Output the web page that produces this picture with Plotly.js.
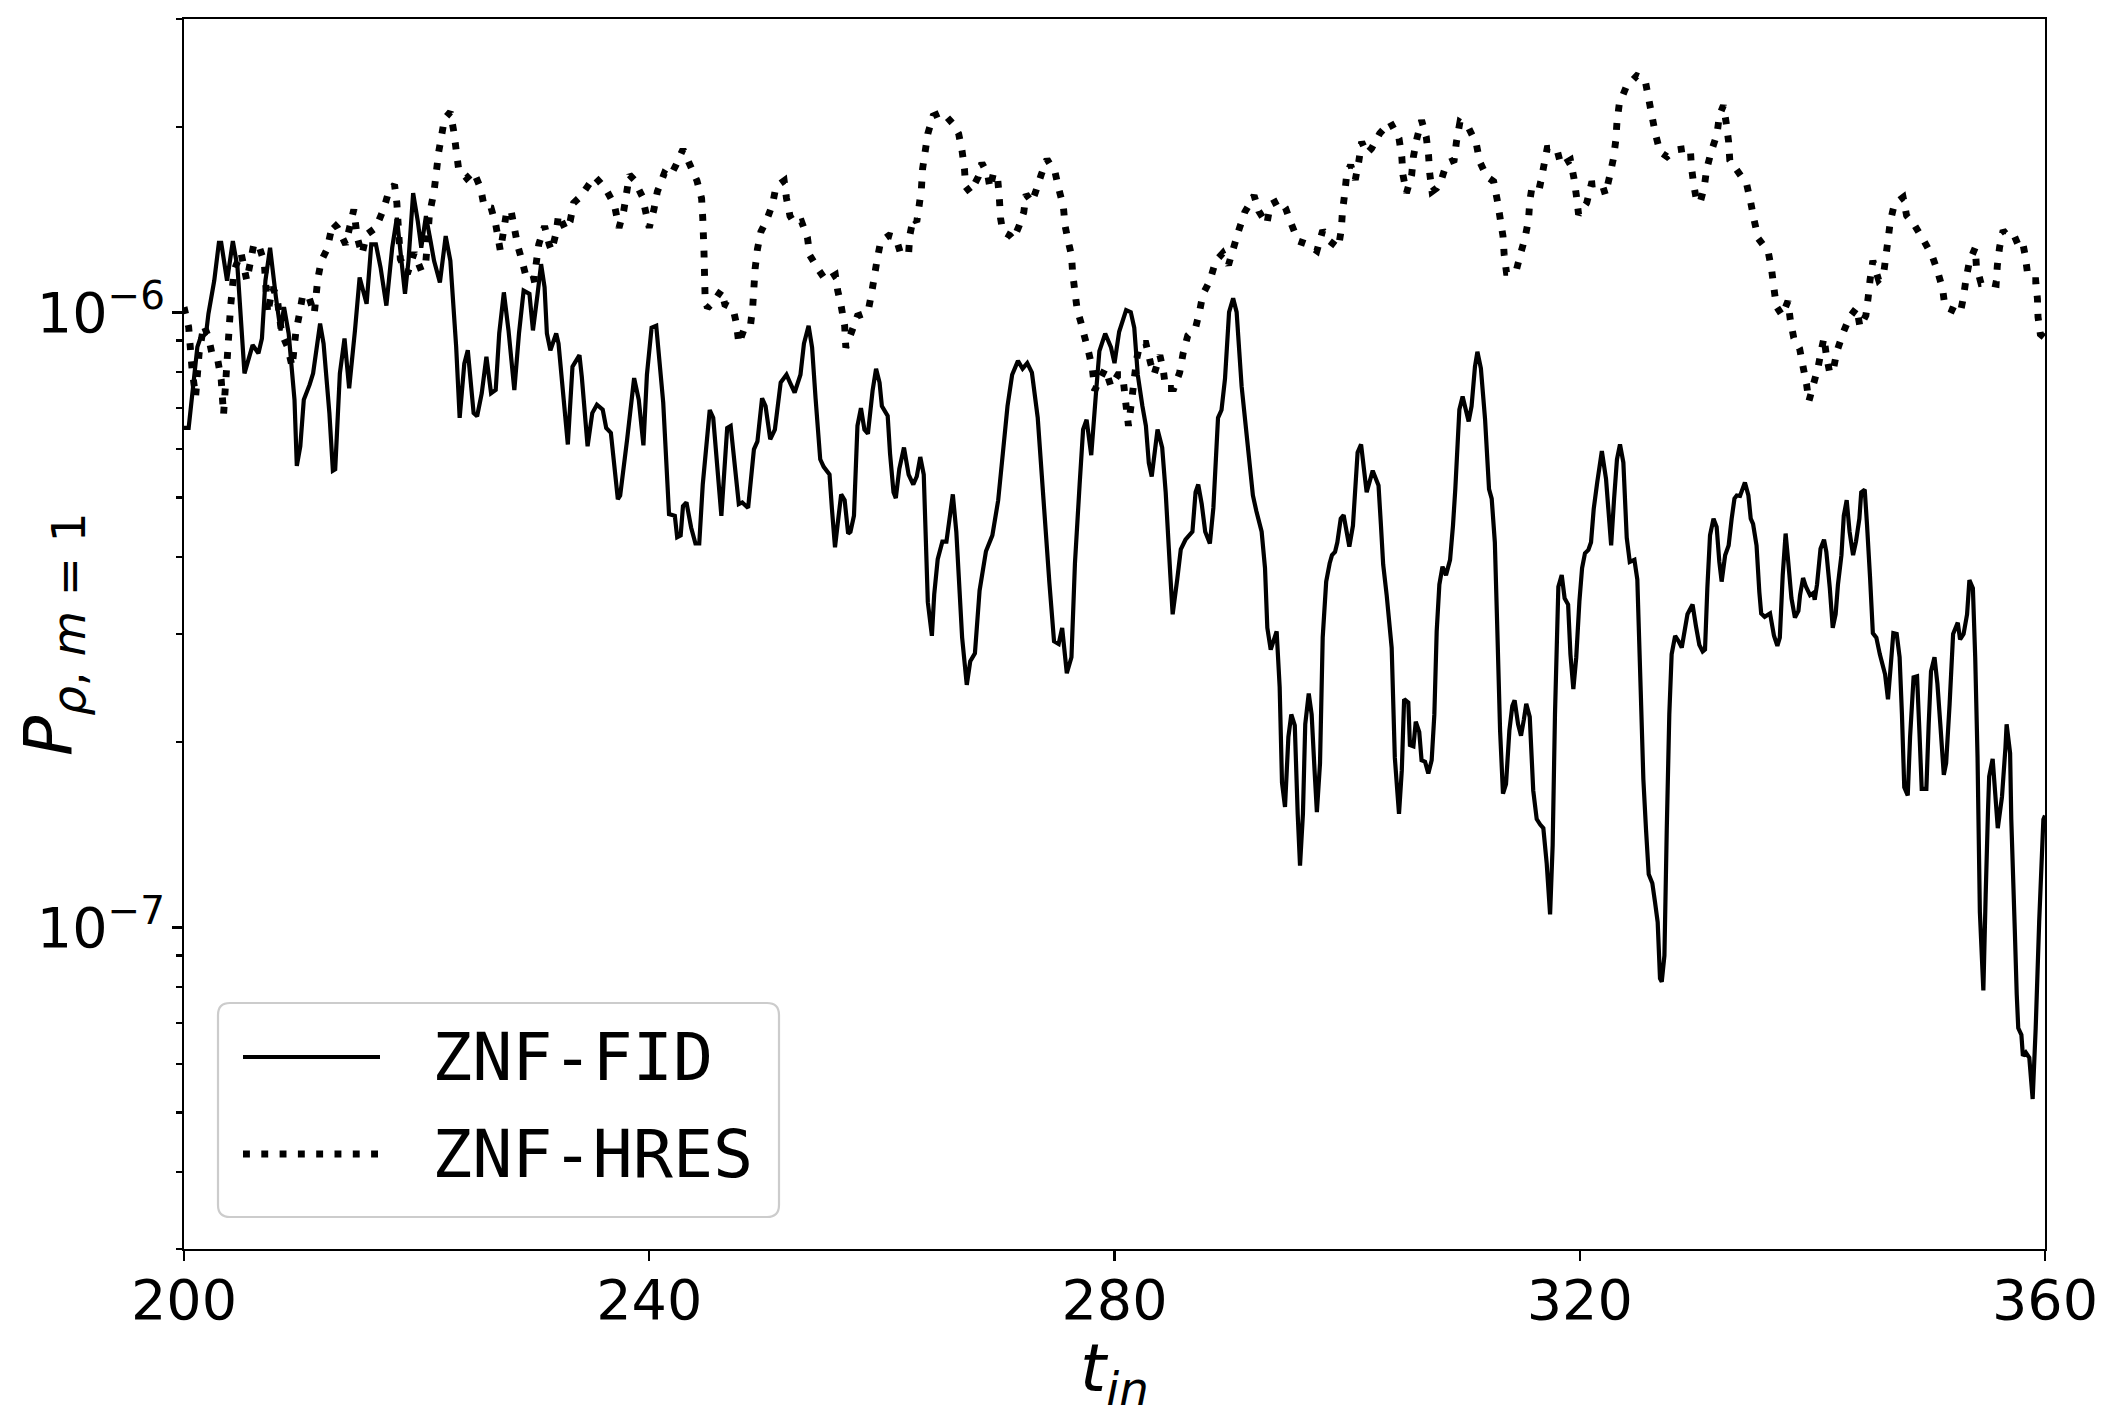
<!DOCTYPE html>
<html>
<head>
<meta charset="utf-8">
<script src="https://cdn.plot.ly/plotly-3.0.1.min.js"></script>
<style>
  html, body { margin: 0; padding: 0; background: #ffffff; }
  #chart { width: 2118px; height: 1420px; }
</style>
</head>
<body>
<div id="chart"></div>
<script>
// ---------------- data (values in units of 1e-6) ----------------
const UNIT = 1e-6;
const seriesNames = ["ZNF-FID", "ZNF-HRES"];

const fidTime = [
  200.0, 200.4, 201.15, 201.4, 201.9, 202.1, 202.6, 203.0, 203.2, 203.7,
  204.2, 204.6, 205.2, 205.9, 206.4, 206.7, 207.0, 207.4, 207.9, 208.3,
  208.6, 209.0, 209.5, 209.7, 210.0, 210.3, 210.8, 211.1, 211.7, 212.0,
  212.5, 212.8, 213.0, 213.4, 213.8, 214.2, 214.7, 215.1, 215.7, 216.1,
  216.5, 216.9, 217.4, 217.9, 218.3, 219.0, 219.3, 219.7, 220.1, 220.4,
  220.8, 221.2, 221.5, 222.0, 222.5, 222.9, 223.4, 223.7, 224.1, 224.4,
  224.9, 225.2, 225.6, 226.0, 226.4, 226.8, 227.1, 227.5, 227.9, 228.4,
  228.8, 229.2, 229.7, 230.0, 230.4, 230.7, 231.0, 231.2, 231.5, 232.0,
  232.2, 233.0, 233.4, 234.0, 234.2, 234.7, 235.1, 235.5, 236.0, 236.3,
  236.7, 237.3, 237.5, 238.1, 238.7, 239.1, 239.5, 239.8, 240.2, 240.6,
  241.2, 241.7, 242.2, 242.4, 242.7, 242.9, 243.2, 243.6, 243.97, 244.3,
  244.6, 245.2, 245.5, 246.2, 246.7, 247.0, 247.7, 248.0, 248.5, 249.0,
  249.3, 249.7, 250.0, 250.4, 250.8, 251.3, 251.8, 252.1, 252.5, 253.0,
  253.3, 253.7, 254.0, 254.3, 254.7, 255.0, 255.5, 255.7, 255.97, 256.2,
  256.5, 256.8, 257.1, 257.3, 257.6, 257.9, 258.2, 258.5, 258.8, 259.2,
  259.5, 259.8, 260.0, 260.5, 260.7, 261.0, 261.2, 261.5, 261.9, 262.3,
  262.7, 263.0, 263.3, 263.6, 263.95, 264.3, 264.5, 264.8, 265.2, 265.55,
  266.1, 266.4, 266.9, 267.3, 267.6, 268.0, 268.4, 268.95, 269.5, 270.0,
  270.4, 270.8, 271.2, 271.7, 272.1, 272.5, 272.9, 273.4, 273.9, 274.4,
  274.8, 275.2, 275.5, 275.9, 276.3, 276.6, 277.0, 277.3, 277.6, 278.0,
  278.4, 278.7, 279.2, 279.7, 280.0, 280.4, 281.0, 281.4, 281.7, 282.0,
  282.4, 282.7, 282.95, 283.2, 283.7, 284.1, 284.4, 284.8, 285.0, 285.4,
  285.7, 286.1, 286.7, 286.97, 287.2, 287.5, 287.8, 288.2, 288.5, 288.9,
  289.2, 289.5, 289.85, 290.2, 290.5, 290.93, 291.4, 291.9, 292.2, 292.65,
  292.94, 293.14, 293.43, 293.94, 294.2, 294.4, 294.66, 294.95, 295.2, 295.5,
  295.75, 295.95, 296.2, 296.4, 296.7, 296.95, 297.2, 297.4, 297.67, 297.9,
  298.2, 298.5, 298.7, 298.96, 299.16, 299.45, 299.7, 300.19, 300.5, 300.9,
  301.2, 301.68, 302.2, 302.7, 302.9, 303.1, 303.4, 303.83, 304.1, 304.26,
  304.46, 304.7, 304.9, 305.26, 305.4, 305.7, 305.9, 306.2, 306.4, 306.7,
  306.98, 307.27, 307.5, 307.7, 307.93, 308.2, 308.5, 308.85, 309.1, 309.3,
  309.65, 309.93, 310.2, 310.45, 310.7, 310.99, 311.2, 311.5, 311.86, 312.2,
  312.43, 312.7, 312.9, 313.15, 313.4, 313.66, 313.95, 314.2, 314.4, 314.7,
  314.95, 315.2, 315.4, 315.7, 316.0, 316.3, 316.6, 316.87, 317.16, 317.45,
  317.67, 317.87, 318.16, 318.45, 318.7, 319.0, 319.2, 319.45, 319.7, 319.97,
  320.2, 320.45, 320.74, 320.97, 321.2, 321.5, 321.9, 322.26, 322.7, 322.95,
  323.2, 323.46, 323.75, 324.04, 324.3, 324.7, 324.95, 325.24, 325.47, 325.7,
  325.93, 326.24, 326.47, 326.7, 326.9, 327.05, 327.28, 327.48, 327.7, 327.9,
  328.2, 328.5, 328.77, 329.06, 329.26, 329.7, 329.99, 330.28, 330.57, 330.77,
  330.97, 331.2, 331.5, 331.77, 332.0, 332.2, 332.5, 332.8, 333.06, 333.3,
  333.5, 333.78, 334.2, 334.5, 334.7, 334.9, 335.2, 335.44, 335.6, 335.9,
  336.36, 336.7, 336.99, 337.2, 337.45, 337.7, 337.9, 338.2, 338.5, 338.8,
  338.94, 339.2, 339.45, 339.8, 340.1, 340.2, 340.4, 340.7, 341.0, 341.2,
  341.5, 341.75, 342.0, 342.2, 342.5, 342.7, 342.95, 343.2, 343.5, 343.75,
  344.04, 344.2, 344.5, 344.7, 344.96, 345.2, 345.5, 345.8, 346.25, 346.5,
  346.7, 346.96, 347.25, 347.5, 347.7, 347.9, 348.2, 348.4, 348.7, 349.0,
  349.2, 349.4, 349.8, 350.0, 350.2, 350.5, 350.75, 351.0, 351.3, 351.5,
  351.8, 352.1, 352.5, 352.7, 353.0, 353.3, 353.5, 353.8, 354.0, 354.2,
  354.4, 354.7, 354.9, 355.1, 355.2, 355.5, 355.7, 355.94, 356.3, 356.6,
  356.7, 357.0, 357.1, 357.4, 357.57, 357.7, 357.97, 358.1, 358.35, 358.65,
  358.94, 359.2, 359.5, 359.86, 360.0
];
const fidPower = [
  0.649, 0.649, 0.879, 0.907, 0.924, 0.995, 1.126, 1.298, 1.298, 1.126,
  1.306, 1.183, 0.796, 0.885, 0.858, 0.907, 1.126, 1.274, 1.059, 0.935,
  1.020, 0.924, 0.721, 0.563, 0.606, 0.721, 0.763, 0.796, 0.959, 0.890,
  0.686, 0.553, 0.556, 0.796, 0.907, 0.753, 0.935, 1.140, 1.033, 1.290,
  1.290, 1.183, 1.026, 1.274, 1.425, 1.072, 1.213, 1.563, 1.407, 1.274,
  1.434, 1.306, 1.213, 1.119, 1.331, 1.213, 0.879, 0.674, 0.826, 0.868,
  0.686, 0.678, 0.739, 0.847, 0.739, 0.748, 0.924, 1.078, 0.935, 0.748,
  0.924, 1.085, 1.072, 0.935, 1.072, 1.198, 1.099, 0.924, 0.868, 0.924,
  0.890, 0.610, 0.816, 0.852, 0.786, 0.606, 0.686, 0.708, 0.695, 0.649,
  0.637, 0.497, 0.504, 0.622, 0.782, 0.721, 0.608, 0.792, 0.944, 0.951,
  0.714, 0.470, 0.467, 0.431, 0.434, 0.484, 0.491, 0.447, 0.421, 0.421,
  0.525, 0.694, 0.674, 0.467, 0.649, 0.654, 0.488, 0.491, 0.481, 0.599,
  0.617, 0.725, 0.704, 0.622, 0.645, 0.769, 0.792, 0.769, 0.741, 0.792,
  0.890, 0.951, 0.877, 0.725, 0.577, 0.561, 0.545, 0.481, 0.415, 0.453,
  0.506, 0.495, 0.437, 0.440, 0.467, 0.654, 0.699, 0.645, 0.635, 0.746,
  0.810, 0.769, 0.704, 0.679, 0.590, 0.510, 0.499, 0.557, 0.603, 0.545,
  0.525, 0.541, 0.582, 0.545, 0.338, 0.298, 0.348, 0.397, 0.424, 0.424,
  0.506, 0.440, 0.296, 0.248, 0.271, 0.279, 0.353, 0.409, 0.434, 0.495,
  0.590, 0.704, 0.792, 0.834, 0.810, 0.827, 0.798, 0.674, 0.495, 0.364,
  0.292, 0.289, 0.307, 0.259, 0.275, 0.391, 0.525, 0.645, 0.669, 0.586,
  0.736, 0.865, 0.924, 0.877, 0.827, 0.930, 1.009, 1.001, 0.944, 0.792,
  0.704, 0.654, 0.569, 0.541, 0.645, 0.603, 0.510, 0.374, 0.323, 0.369,
  0.412, 0.427, 0.440, 0.510, 0.525, 0.488, 0.440, 0.421, 0.481, 0.674,
  0.694, 0.780, 1.001, 1.054, 1.001, 0.758, 0.622, 0.504, 0.475, 0.440,
  0.384, 0.307, 0.283, 0.303, 0.246, 0.172, 0.157, 0.204, 0.222, 0.213,
  0.153, 0.126, 0.153, 0.214, 0.240, 0.222, 0.180, 0.154, 0.185, 0.296,
  0.365, 0.391, 0.403, 0.408, 0.423, 0.462, 0.468, 0.416, 0.450, 0.592,
  0.610, 0.510, 0.553, 0.523, 0.453, 0.389, 0.347, 0.285, 0.189, 0.172,
  0.153, 0.180, 0.235, 0.232, 0.198, 0.197, 0.216, 0.208, 0.187, 0.186,
  0.178, 0.187, 0.222, 0.303, 0.361, 0.386, 0.374, 0.396, 0.450, 0.516,
  0.695, 0.730, 0.695, 0.665, 0.704, 0.816, 0.863, 0.811, 0.670, 0.516,
  0.498, 0.423, 0.311, 0.209, 0.165, 0.171, 0.209, 0.229, 0.234, 0.214,
  0.205, 0.218, 0.231, 0.220, 0.167, 0.150, 0.147, 0.145, 0.127, 0.105,
  0.136, 0.222, 0.358, 0.374, 0.343, 0.335, 0.278, 0.244, 0.275, 0.339,
  0.384, 0.406, 0.411, 0.423, 0.479, 0.529, 0.595, 0.536, 0.418, 0.497,
  0.577, 0.610, 0.570, 0.430, 0.393, 0.396, 0.368, 0.243, 0.174, 0.144,
  0.122, 0.118, 0.110, 0.102, 0.0826, 0.0816, 0.090, 0.144, 0.222, 0.278,
  0.298, 0.292, 0.285, 0.307, 0.323, 0.335, 0.309, 0.288, 0.281, 0.283,
  0.356, 0.434, 0.462, 0.448, 0.393, 0.365, 0.403, 0.418, 0.462, 0.498,
  0.504, 0.503, 0.529, 0.504, 0.462, 0.453, 0.418, 0.351, 0.324, 0.320,
  0.324, 0.298, 0.287, 0.296, 0.374, 0.437, 0.398, 0.343, 0.319, 0.327,
  0.347, 0.370, 0.358, 0.347, 0.350, 0.341, 0.361, 0.413, 0.427, 0.408,
  0.356, 0.307, 0.323, 0.361, 0.403, 0.467, 0.495, 0.440, 0.403, 0.424,
  0.462, 0.510, 0.515, 0.451, 0.370, 0.301, 0.296, 0.278, 0.258, 0.235,
  0.261, 0.301, 0.300, 0.275, 0.222, 0.169, 0.164, 0.204, 0.255, 0.256,
  0.209, 0.168, 0.168, 0.214, 0.261, 0.275, 0.249, 0.214, 0.177, 0.185,
  0.231, 0.300, 0.313, 0.294, 0.300, 0.323, 0.367, 0.356, 0.275, 0.189,
  0.106, 0.079, 0.113, 0.155, 0.176, 0.188, 0.167, 0.145, 0.163, 0.196,
  0.214, 0.192, 0.150, 0.0995, 0.0778, 0.0686, 0.0669, 0.0618, 0.0626, 0.0614,
  0.0526, 0.0686, 0.1021, 0.1498, 0.152
];

const hresTime = [
  200.0, 200.4, 200.7, 201.0, 201.3, 201.7, 202.1, 202.4, 202.9, 203.2,
  203.4, 203.7, 204.0, 204.3, 204.9, 205.4, 206.0, 206.4, 206.9, 207.2,
  207.6, 208.0, 208.4, 208.9, 209.3, 209.6, 209.9, 210.2, 210.7, 211.2,
  211.5, 211.8, 212.3, 212.8, 213.2, 213.9, 214.6, 214.9, 215.3, 215.7,
  216.5, 217.2, 217.6, 218.1, 218.3, 218.6, 219.2, 219.8, 220.4, 220.8,
  221.1, 221.5, 221.9, 222.4, 222.9, 223.2, 223.4, 223.6, 224.3, 224.9,
  225.5, 225.8, 226.4, 226.8, 227.2, 227.7, 228.1, 228.4, 228.7, 229.1,
  229.5, 230.1, 230.5, 231.0, 231.4, 231.6, 232.0, 232.2, 232.8, 233.2,
  233.5, 234.1, 234.7, 235.3, 235.7, 236.3, 237.0, 237.4, 237.8, 238.3,
  238.7, 239.4, 240.0, 240.4, 240.7, 241.3, 241.8, 242.3, 242.9, 243.5,
  244.1, 244.5, 244.6, 244.7, 244.75, 244.8, 245.0, 245.5, 246.2, 246.5,
  247.2, 247.5, 247.7, 248.2, 248.7, 248.9, 249.1, 249.3, 249.6, 250.1,
  250.6, 250.9, 251.6, 251.8, 252.1, 252.5, 253.1, 253.6, 253.8, 254.5,
  255.2, 256.0, 256.2, 256.5, 256.8, 256.9, 257.4, 257.9, 258.8, 259.1,
  259.6, 259.9, 260.6, 261.2, 261.6, 262.3, 262.4, 262.7, 263.0, 263.2,
  263.4, 263.5, 263.7, 263.95, 264.4, 265.2, 266.1, 266.6, 266.9, 267.1,
  267.2, 267.6, 268.3, 268.6, 269.1, 269.3, 269.6, 269.97, 270.1, 270.2,
  270.4, 271.0, 271.3, 271.8, 272.2, 272.4, 272.9, 273.2, 273.7, 274.2,
  274.9, 275.2, 275.6, 275.75, 276.1, 276.3, 276.4, 276.6, 276.8, 277.1,
  277.4, 277.8, 278.1, 278.3, 278.6, 279.2, 279.7, 280.3, 280.7, 281.0,
  281.2, 281.5, 281.9, 282.2, 282.7, 283.1, 283.4, 283.9, 284.2, 284.4,
  285.1, 285.6, 285.9, 286.3, 286.97, 287.3, 287.6, 288.2, 288.7, 289.3,
  289.8, 290.2, 290.7, 291.2, 291.7, 292.0, 292.4, 293.1, 293.4, 294.2,
  294.7, 295.2, 295.8, 296.6, 297.4, 297.9, 298.5, 299.25, 299.5, 299.6,
  299.8, 299.96, 300.3, 300.7, 301.0, 301.25, 301.7, 302.1, 302.8, 303.7,
  304.46, 304.7, 304.8, 305.1, 305.55, 305.7, 306.0, 306.4, 306.8, 307.0,
  307.1, 307.3, 307.7, 308.1, 308.56, 309.2, 309.4, 309.7, 310.4, 311.1,
  311.4, 312.0, 312.6, 312.9, 313.15, 313.4, 313.5, 313.7, 314.5, 314.9,
  315.3, 315.6, 315.7, 315.95, 316.6, 316.9, 317.2, 318.0, 318.4, 319.2,
  319.5, 319.7, 319.9, 320.6, 321.0, 321.9, 322.2, 322.6, 322.9, 323.1,
  323.2, 323.4, 323.98, 324.9, 325.6, 325.9, 326.2, 326.5, 326.9, 327.5,
  328.2, 329.5, 329.6, 329.8, 330.05, 330.34, 330.7, 330.9, 331.3, 331.8,
  332.0, 332.35, 332.6, 332.8, 332.9, 333.5, 334.35, 334.7, 335.0, 335.35,
  336.2, 336.5, 336.7, 336.9, 337.4, 337.9, 338.1, 338.4, 338.9, 339.2,
  339.5, 339.7, 340.1, 340.5, 340.8, 341.0, 341.2, 341.5, 341.8, 342.1,
  342.6, 343.2, 343.8, 344.1, 344.6, 344.8, 344.96, 345.2, 345.7, 346.1,
  346.3, 346.5, 346.7, 347.05, 347.8, 348.1, 348.8, 349.6, 350.3, 350.75,
  351.2, 351.4, 351.98, 352.7, 352.98, 353.2, 353.5, 354.0, 354.1, 354.5,
  355.1, 355.8, 355.9, 356.1, 356.4, 357.2, 358.0, 358.3, 358.5, 358.85,
  359.2, 359.35, 359.4, 359.6, 359.9
];
const hresPower = [
  1.020, 0.947, 0.806, 0.730, 0.858, 0.953, 0.912, 0.858, 0.837, 0.777,
  0.682, 0.832, 1.020, 1.169, 1.251, 1.126, 1.290, 1.290, 1.206, 0.995,
  1.099, 1.059, 0.924, 0.879, 0.816, 0.924, 0.989, 1.065, 1.065, 0.995,
  1.133, 1.213, 1.267, 1.398, 1.373, 1.290, 1.470, 1.323, 1.243, 1.339,
  1.373, 1.479, 1.573, 1.613, 1.507, 1.221, 1.155, 1.251, 1.169, 1.213,
  1.443, 1.573, 1.825, 2.065, 2.118, 1.966, 1.837, 1.716, 1.653, 1.694,
  1.593, 1.488, 1.479, 1.390, 1.259, 1.443, 1.470, 1.373, 1.282, 1.206,
  1.126, 1.133, 1.290, 1.381, 1.290, 1.259, 1.348, 1.443, 1.364, 1.407,
  1.507, 1.544, 1.603, 1.663, 1.633, 1.583, 1.497, 1.373, 1.461, 1.674,
  1.643, 1.544, 1.373, 1.470, 1.573, 1.684, 1.663, 1.737, 1.842, 1.737,
  1.638, 1.533, 1.424, 1.267, 1.160, 1.062, 1.016, 1.039, 1.086, 1.031,
  1.016, 0.958, 0.890, 0.944, 0.951, 1.024, 1.177, 1.267, 1.353, 1.414,
  1.500, 1.602, 1.638, 1.533, 1.435, 1.393, 1.404, 1.324, 1.239, 1.177,
  1.126, 1.151, 1.086, 1.024, 0.951, 0.877, 0.930, 0.987, 1.001, 1.070,
  1.221, 1.305, 1.334, 1.324, 1.248, 1.248, 1.334, 1.424, 1.404, 1.489,
  1.591, 1.712, 1.815, 1.953, 2.087, 2.118, 2.027, 1.953, 1.828, 1.712,
  1.602, 1.567, 1.663, 1.750, 1.675, 1.591, 1.687, 1.638, 1.533, 1.424,
  1.353, 1.334, 1.314, 1.383, 1.456, 1.556, 1.511, 1.567, 1.675, 1.775,
  1.687, 1.591, 1.489, 1.383, 1.286, 1.239, 1.160, 1.078, 1.009, 0.965,
  0.917, 0.858, 0.810, 0.746, 0.769, 0.810, 0.758, 0.792, 0.792, 0.704,
  0.654, 0.725, 0.839, 0.890, 0.890, 0.827, 0.792, 0.852, 0.804, 0.752,
  0.752, 0.798, 0.858, 0.917, 0.944, 1.001, 1.070, 1.126, 1.212, 1.248,
  1.194, 1.267, 1.363, 1.456, 1.511, 1.550, 1.461, 1.393, 1.497, 1.525,
  1.479, 1.393, 1.306, 1.290, 1.259, 1.359, 1.306, 1.274, 1.364, 1.461,
  1.563, 1.674, 1.737, 1.643, 1.759, 1.894, 1.814, 1.848, 1.954, 2.040,
  1.918, 1.792, 1.674, 1.563, 1.674, 1.792, 1.918, 2.053, 1.930, 1.803,
  1.684, 1.573, 1.593, 1.643, 1.748, 1.769, 1.894, 2.040, 2.003, 1.883,
  1.759, 1.663, 1.633, 1.525, 1.425, 1.331, 1.243, 1.162, 1.162, 1.243,
  1.323, 1.416, 1.516, 1.623, 1.613, 1.726, 1.848, 1.852, 1.733, 1.769,
  1.653, 1.554, 1.443, 1.507, 1.617, 1.623, 1.554, 1.674, 1.781, 1.906,
  2.040, 2.184, 2.323, 2.426, 2.397, 2.239, 2.091, 1.954, 1.825, 1.792,
  1.837, 1.852, 1.726, 1.613, 1.516, 1.507, 1.597, 1.705, 1.825, 1.949,
  2.087, 2.171, 2.028, 1.894, 1.768, 1.705, 1.617, 1.510, 1.411, 1.319,
  1.256, 1.172, 1.094, 1.023, 0.989, 1.043, 0.973, 0.909, 0.874, 0.816,
  0.764, 0.717, 0.765, 0.816, 0.874, 0.910, 0.852, 0.796, 0.806, 0.863,
  0.922, 0.983, 1.017, 0.947, 0.989, 1.059, 1.130, 1.213, 1.129, 1.147,
  1.225, 1.311, 1.404, 1.501, 1.539, 1.437, 1.385, 1.306, 1.236, 1.169,
  1.092, 1.020, 1.010, 0.995, 1.056, 1.130, 1.210, 1.274, 1.191, 1.115,
  1.119, 1.112, 1.191, 1.278, 1.359, 1.303, 1.323, 1.236, 1.157, 1.126,
  1.126, 1.052, 0.983, 0.922, 0.912
];

const xTickVals = [200, 240, 280, 320, 360];
const yMajorVals = [1e-7, 1e-6];
const yMajorText = ["10<sup>\u22127</sup>", "10<sup>\u22126</sup>"];
const yMinorVals = [3e-8, 4e-8, 5e-8, 6e-8, 7e-8, 8e-8, 9e-8,
                    2e-7, 3e-7, 4e-7, 5e-7, 6e-7, 7e-7, 8e-7, 9e-7,
                    2e-6, 3e-6];
const yLimits = [3e-8, 3e-6];

// ---------------- layout geometry ----------------
const W = 2118, H = 1420;
const M = { l: 184, r: 73, t: 19, b: 171 };
const PW = W - M.l - M.r, PH = H - M.t - M.b;
const px = v => (v - M.l) / PW;         // pixel x -> paper x
const py = v => (H - M.b - v) / PH;     // pixel y -> paper y

const TICK_FONT = 55.6, LABEL_FONT = 66.7;
const SOLID_W = 4.2, DOT_W = 6.9, DOT_DASH = "6.9px,11.4px";

const traces = [
  {
    x: fidTime, y: fidPower.map(v => v * UNIT), name: seriesNames[0],
    type: "scatter", mode: "lines", showlegend: false, hoverinfo: "skip",
    line: { color: "#000000", width: SOLID_W, simplify: false }
  },
  {
    x: hresTime, y: hresPower.map(v => v * UNIT), name: seriesNames[1],
    type: "scatter", mode: "lines", showlegend: false, hoverinfo: "skip",
    line: { color: "#000000", width: DOT_W, dash: DOT_DASH, simplify: false }
  }
];

// Legend box (rounded, drawn as a shape)
const box = { x0: 218, x1: 779, y0: 1003, y1: 1217, r: 12 };
function roundedPath(b) {
  const X = v => px(v), Y = v => py(v);
  return "M " + X(b.x0 + b.r) + "," + Y(b.y0) +
    " L " + X(b.x1 - b.r) + "," + Y(b.y0) +
    " Q " + X(b.x1) + "," + Y(b.y0) + " " + X(b.x1) + "," + Y(b.y0 + b.r) +
    " L " + X(b.x1) + "," + Y(b.y1 - b.r) +
    " Q " + X(b.x1) + "," + Y(b.y1) + " " + X(b.x1 - b.r) + "," + Y(b.y1) +
    " L " + X(b.x0 + b.r) + "," + Y(b.y1) +
    " Q " + X(b.x0) + "," + Y(b.y1) + " " + X(b.x0) + "," + Y(b.y1 - b.r) +
    " L " + X(b.x0) + "," + Y(b.y0 + b.r) +
    " Q " + X(b.x0) + "," + Y(b.y0) + " " + X(b.x0 + b.r) + "," + Y(b.y0) + " Z";
}
const legendRows = [1057, 1154];
const sampleX = [243, 380];
const textX = 430;

const shapes = [
  {
    type: "path", xref: "paper", yref: "paper", path: roundedPath(box),
    fillcolor: "rgba(255,255,255,0.8)", line: { color: "#cccccc", width: 2.2 }
  },
  {
    type: "line", xref: "paper", yref: "paper",
    x0: px(sampleX[0]), x1: px(sampleX[1]), y0: py(legendRows[0]), y1: py(legendRows[0]),
    line: { color: "#000000", width: SOLID_W }
  },
  {
    type: "line", xref: "paper", yref: "paper",
    x0: px(sampleX[0]), x1: px(sampleX[1]), y0: py(legendRows[1]), y1: py(legendRows[1]),
    line: { color: "#000000", width: DOT_W, dash: DOT_DASH }
  }
];

const annotations = [
  {
    xref: "paper", yref: "paper", x: px(textX), y: py(legendRows[0]),
    xanchor: "left", yanchor: "middle", showarrow: false,
    text: seriesNames[0],
    font: { family: "DejaVu Sans Mono", size: LABEL_FONT, color: "#000000" }
  },
  {
    xref: "paper", yref: "paper", x: px(textX), y: py(legendRows[1]),
    xanchor: "left", yanchor: "middle", showarrow: false,
    text: seriesNames[1],
    font: { family: "DejaVu Sans Mono", size: LABEL_FONT, color: "#000000" }
  },
  {
    xref: "paper", yref: "paper", x: 0.5, y: py(1372),
    xanchor: "center", yanchor: "middle", showarrow: false,
    text: "<i>t</i><sub><i>in</i></sub>",
    font: { family: "DejaVu Sans", size: LABEL_FONT, color: "#000000" }
  },
  {
    xref: "paper", yref: "paper", x: px(52), y: 0.5,
    xanchor: "center", yanchor: "middle", showarrow: false, textangle: -90,
    text: "<i>P</i><sub><i>\u03C1</i>, <i>m</i> = 1</sub>",
    font: { family: "DejaVu Sans", size: LABEL_FONT, color: "#000000" }
  }
];

const axisCommon = {
  showgrid: false, zeroline: false, showline: true, mirror: true,
  linecolor: "#000000", linewidth: 2.2,
  ticks: "outside", ticklen: 9.7, tickwidth: 2.2, tickcolor: "#000000",
  tickfont: { family: "DejaVu Sans", size: TICK_FONT, color: "#000000" }
};

const layout = {
  width: W, height: H,
  margin: { l: M.l, r: M.r, t: M.t, b: M.b, pad: 0 },
  paper_bgcolor: "#ffffff", plot_bgcolor: "#ffffff",
  showlegend: false,
  font: { family: "DejaVu Sans", color: "#000000" },
  xaxis: Object.assign({}, axisCommon, {
    range: [200, 360], tickmode: "array", tickvals: xTickVals,
    ticktext: xTickVals.map(String), ticklabelstandoff: -9
  }),
  yaxis: Object.assign({}, axisCommon, {
    type: "log",
    range: [Math.log10(yLimits[0]), Math.log10(yLimits[1])],
    tickmode: "array", tickvals: yMajorVals, ticktext: yMajorText,
    ticklabelstandoff: -4,
    minor: {
      tickmode: "array", tickvals: yMinorVals, ticks: "outside",
      ticklen: 5.6, tickwidth: 2.2, tickcolor: "#000000", showgrid: false
    }
  }),
  shapes: shapes,
  annotations: annotations
};

Plotly.newPlot("chart", traces, layout, { staticPlot: true, displayModeBar: false });
</script>
</body>
</html>
